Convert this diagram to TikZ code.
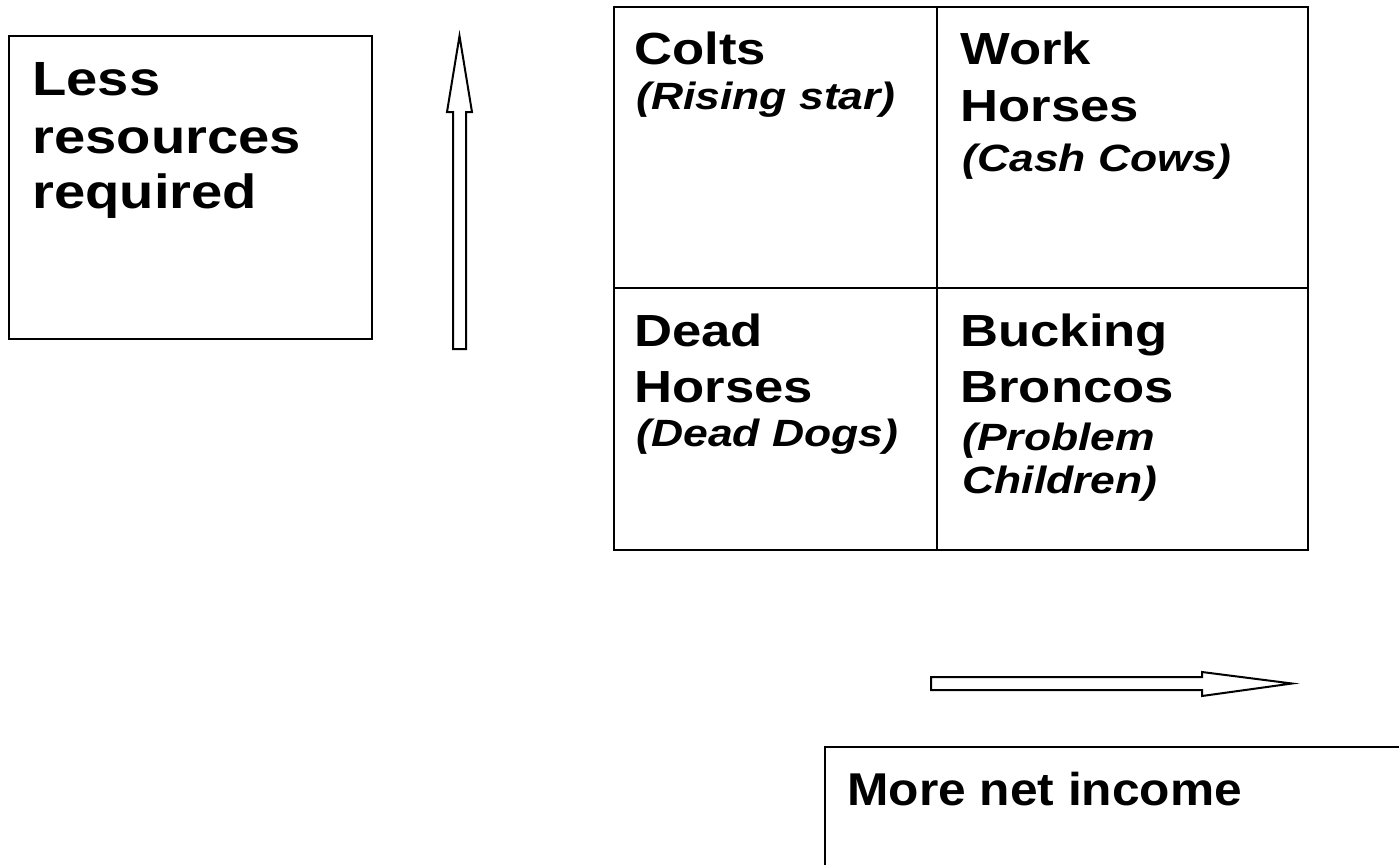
\documentclass[tikz,border=0pt]{standalone}
\usepackage{fontspec}
\setmainfont{Liberation Sans}[FakeStretch=1.17]
\newfontfamily\narrowfam{Liberation Sans}[FakeStretch=1.08]
\begin{document}
\begin{tikzpicture}[x=0.5pt,y=-0.5pt,
  line/.style={line width=1.1pt, line join=miter},
  bigtxt/.style={anchor=base west, inner sep=0pt, font=\fontsize{22.5}{27}\selectfont\bfseries},
  lefttxt/.style={anchor=base west, inner sep=0pt, font=\fontsize{24}{29}\selectfont\bfseries},
  bottxt/.style={anchor=base west, inner sep=0pt, font=\narrowfam\fontsize{23}{28}\selectfont\bfseries},
  subtxt/.style={anchor=base west, inner sep=0pt, font=\fontsize{19}{23}\selectfont\bfseries\itshape},
  blockarrow/.style={line width=1pt, line join=miter, fill=white}]
\useasboundingbox (0,0) rectangle (1399,864);
\fill[white] (0,0) rectangle (1399,864);

% left box
\coordinate (lb1) at (9,36);
\coordinate (lb2) at (372,339);
\draw[line] (lb1) rectangle (lb2);
\node[lefttxt] (l1) at (32,95) {Less};
\node[lefttxt] (l2) at (32,153) {resources};
\node[lefttxt] (l3) at (32,208) {required};

% up block arrow
\draw[blockarrow] (453,349) -- (453,112) -- (447,112) -- (459.5,36) -- (472,112) -- (466,112) -- (466,349) -- cycle;

% grid
\coordinate (g1) at (614,7);
\coordinate (g2) at (1308,550);
\draw[line] (g1) rectangle (g2);
\draw[line] (937,7) -- (937,550);
\draw[line] (614,288) -- (1308,288);

\node[bigtxt] (c1) at (634,64) {Colts};
\node[subtxt] (c2) at (636,109) {(Rising star)};

\node[bigtxt] (w1) at (960,64) {Work};
\node[bigtxt] (w2) at (960,121) {Horses};
\node[subtxt] (w3) at (962,171) {(Cash Cows)};

\node[bigtxt] (d1) at (634,346) {Dead};
\node[bigtxt] (d2) at (634,402) {Horses};
\node[subtxt] (d3) at (636,446) {(Dead Dogs)};

\node[bigtxt] (b1) at (960,346) {Bucking};
\node[bigtxt] (b2) at (960,402) {Broncos};
\node[subtxt] (b3) at (962,450) {(Problem};
\node[subtxt] (b4) at (962,493) {Children)};

% right block arrow
\draw[blockarrow] (931,677) -- (1202,677) -- (1202,672) -- (1292,683.5) -- (1202,696) -- (1202,690) -- (931,690) -- cycle;

% bottom box (cut off by the page)
\draw[line] (825,880) -- (825,747) -- (1410,747);
\node[bottxt] (m1) at (847,805) {More net income};
\end{tikzpicture}
\end{document}
